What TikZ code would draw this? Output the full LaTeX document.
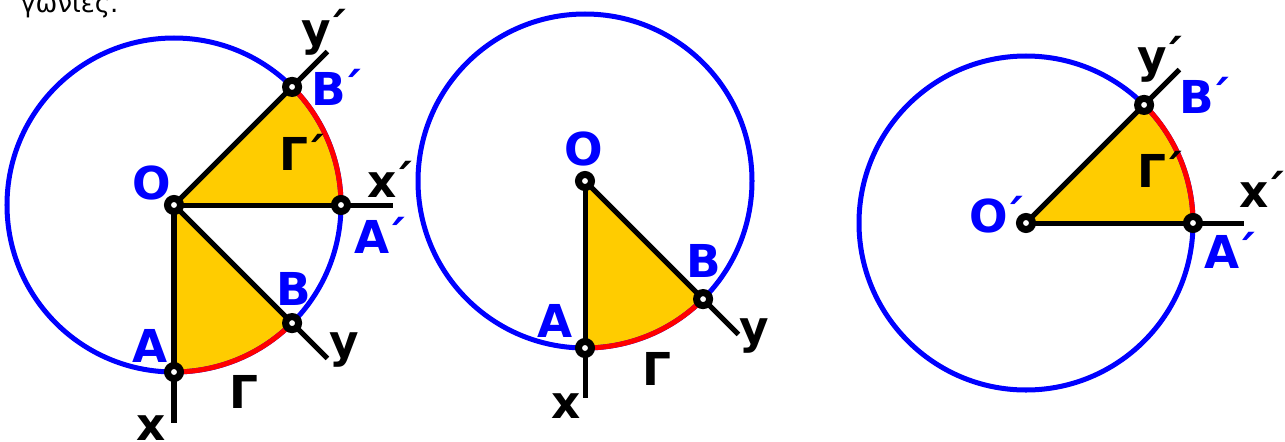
\documentclass[tikz,border=0pt]{standalone}
\usepackage{fontspec}
\setmainfont{DejaVu Sans}
\usetikzlibrary{calc}
\definecolor{circBlue}{RGB}{0,0,255}
\definecolor{arcRed}{RGB}{255,0,0}
\definecolor{sectYellow}{RGB}{255,204,0}
\newcommand{\prm}{\kern-0.11em´}
\tikzset{
  rim/.style={circBlue,line width=2.85pt},
  arcpart/.style={arcRed,line width=2.85pt},
  ray/.style={black,line width=2.85pt},
  ptmark/.style={draw=black,fill=white,line width=4pt},
  lbl/.style={inner sep=0pt,anchor=base west,font=\bfseries\fontsize{25.8}{30}\selectfont},
  bluelbl/.style={lbl,text=circBlue},
  blacklbl/.style={lbl,text=black}
}
\begin{document}
\begin{tikzpicture}[x=0.02cm,y=0.02cm,line cap=butt]
  \useasboundingbox (0,0) rectangle (1285,441);
  \clip (0,0) rectangle (1285,441);
  % points of the three figures
  \coordinate (O1) at (174,236);
  \coordinate (A1) at ($(O1)+(-90:167)$);
  \coordinate (B1) at ($(O1)+(-45:167)$);
  \coordinate (A1p) at ($(O1)+(0:167)$);
  \coordinate (B1p) at ($(O1)+(45:167)$);
  \coordinate (x1) at ($(O1)+(-90:218)$);
  \coordinate (y1) at ($(O1)+(-45:217)$);
  \coordinate (x1p) at ($(O1)+(0:219)$);
  \coordinate (y1p) at ($(O1)+(45:217)$);
  \coordinate (O2) at (585,260);
  \coordinate (A2) at ($(O2)+(-90:167)$);
  \coordinate (B2) at ($(O2)+(-45:167)$);
  \coordinate (x2) at ($(O2)+(-90:217)$);
  \coordinate (y2) at ($(O2)+(-45:217)$);
  \coordinate (O3) at (1026,218);
  \coordinate (A3p) at ($(O3)+(0:167)$);
  \coordinate (B3p) at ($(O3)+(45:167)$);
  \coordinate (x3p) at ($(O3)+(0:218)$);
  \coordinate (y3p) at ($(O3)+(45:217)$);
  % sectors
  \fill[sectYellow] (O1) -- (A1) arc[start angle=-90,end angle=-45,radius=167] -- cycle;
  \fill[sectYellow] (O1) -- (A1p) arc[start angle=0,end angle=45,radius=167] -- cycle;
  \fill[sectYellow] (O2) -- (A2) arc[start angle=-90,end angle=-45,radius=167] -- cycle;
  \fill[sectYellow] (O3) -- (A3p) arc[start angle=0,end angle=45,radius=167] -- cycle;
  % circles and arcs
  \draw[rim] (O1) circle (167);
  \draw[rim] (O2) circle (167);
  \draw[rim] (O3) circle (167);
  \draw[arcpart] (A1) arc[start angle=-90,end angle=-45,radius=167];
  \draw[arcpart] (A1p) arc[start angle=0,end angle=45,radius=167];
  \draw[arcpart] (A2) arc[start angle=-90,end angle=-45,radius=167];
  \draw[arcpart] (A3p) arc[start angle=0,end angle=45,radius=167];
  % rays
  \draw[ray] (O1) -- (x1);
  \draw[ray] (O1) -- (y1);
  \draw[ray] (O1) -- (x1p);
  \draw[ray] (O1) -- (y1p);
  \draw[ray] (O2) -- (x2);
  \draw[ray] (O2) -- (y2);
  \draw[ray] (O3) -- (x3p);
  \draw[ray] (O3) -- (y3p);
  \foreach \p in {O1,A1,B1,A1p,B1p,O2,A2,B2,O3,A3p,B3p}
    \draw[ptmark] (\p) circle (6.5);
  % labels
  \node[anchor=base west,inner sep=0pt,font=\fontsize{14.8}{18}\selectfont] (capt) at (20,429) {γωνίες.};
  \node[bluelbl] (lO1) at (132,242) {O};
  \node[bluelbl] (lB1p) at (311,336) {B\prm};
  \node[bluelbl] (lA1p) at (354,188) {A\prm};
  \node[bluelbl] (lB1) at (276,136) {B};
  \node[bluelbl] (lA1) at (132,79) {A};
  \node[blacklbl] (lG1p) at (279,271) {Γ\prm};
  \node[blacklbl] (lx1p) at (367,244) {x\prm};
  \node[blacklbl] (ly1p) at (301,396) {y\prm};
  \node[blacklbl] (ly1) at (329,84) {y};
  \node[blacklbl] (lG1) at (229,33) {Γ};
  \node[blacklbl] (lx1) at (136,1) {x};
  \node[bluelbl] (lO2) at (564,276) {O};
  \node[bluelbl] (lB2) at (686,164) {B};
  \node[bluelbl] (lA2) at (537,104) {A};
  \node[blacklbl] (ly2) at (739,98) {y};
  \node[blacklbl] (lG2) at (642,56) {Γ};
  \node[blacklbl] (lx2) at (551,23) {x};
  \node[bluelbl] (lO3) at (969,209) {O\prm};
  \node[bluelbl] (lB3p) at (1179,328) {B\prm};
  \node[bluelbl] (lA3p) at (1204,173) {A\prm};
  \node[blacklbl] (lG3p) at (1137,254) {Γ\prm};
  \node[blacklbl] (lx3p) at (1239,234) {x\prm};
  \node[blacklbl] (ly3p) at (1137,369) {y\prm};
\end{tikzpicture}
\end{document}
